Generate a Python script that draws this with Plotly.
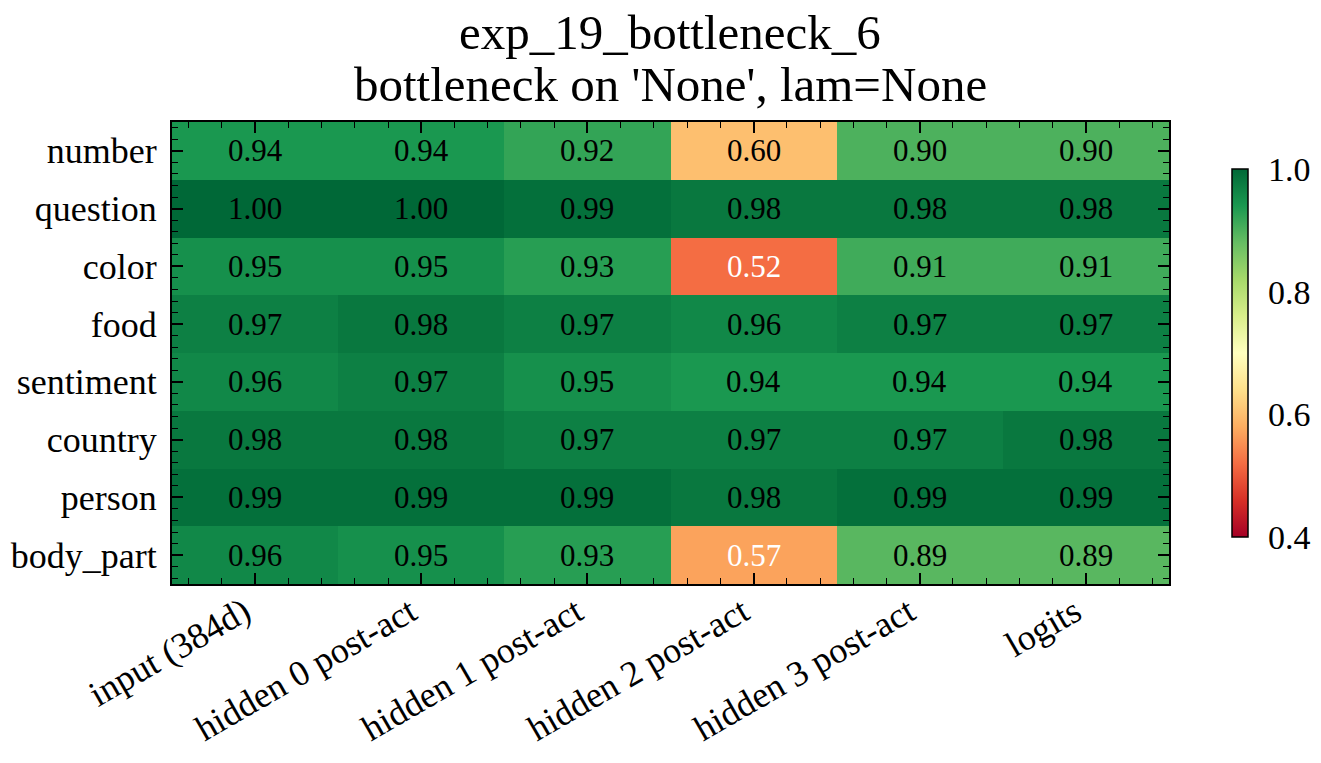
import plotly.graph_objects as go

title_line1 = "exp_19_bottleneck_6"
title_line2 = "bottleneck on 'None', lam=None"

columns = ["input (384d)", "hidden 0 post-act", "hidden 1 post-act",
           "hidden 2 post-act", "hidden 3 post-act", "logits"]
rows = ["number", "question", "color", "food", "sentiment", "country",
        "person", "body_part"]

number = [0.94, 0.94, 0.92, 0.60, 0.90, 0.90]
question = [1.00, 1.00, 0.99, 0.98, 0.98, 0.98]
color = [0.95, 0.95, 0.93, 0.52, 0.91, 0.91]
food = [0.97, 0.98, 0.97, 0.96, 0.97, 0.97]
sentiment = [0.96, 0.97, 0.95, 0.94, 0.94, 0.94]
country = [0.98, 0.98, 0.97, 0.97, 0.97, 0.98]
person = [0.99, 0.99, 0.99, 0.98, 0.99, 0.99]
body_part = [0.96, 0.95, 0.93, 0.57, 0.89, 0.89]

z = [number, question, color, food, sentiment, country, person, body_part]

colorbar_ticks = [0.4, 0.6, 0.8, 1.0]

FONT = "Liberation Serif"
xs = list(range(len(columns)))
ys = list(range(len(rows)))

fig = go.Figure()
fig.add_trace(go.Heatmap(
    z=z, x=xs, y=ys,
    colorscale="RdYlGn", zmin=0.4, zmax=1.0,
    colorbar=dict(
        x=1.063, xanchor="left", xref="paper",
        y=0.5, yanchor="middle", len=0.797, lenmode="fraction",
        thickness=16, thicknessmode="pixels",
        outlinewidth=1.5, outlinecolor="black",
        tickvals=colorbar_ticks, ticktext=[f"{v:.1f}" for v in colorbar_ticks],
        ticks="outside", ticklen=13, tickcolor="rgba(0,0,0,0)",
        tickfont=dict(family=FONT, size=34, color="black"),
        xpad=0, ypad=0,
    ),
))

for i, row in enumerate(z):
    for j, v in enumerate(row):
        fig.add_annotation(
            x=xs[j], y=ys[i], text=f"{v:.2f}", showarrow=False,
            font=dict(family=FONT, size=31,
                      color="white" if v < 0.58 else "black"),
        )

# two-line title, placed as separate lines (tighter line spacing)
for text, ypx in [(title_line1, 33), (title_line2, 84)]:
    fig.add_annotation(
        text=text, xref="paper", yref="paper",
        x=(670 - 172) / 997, y=(584 - ypx) / 462,
        xanchor="center", yanchor="middle", showarrow=False,
        font=dict(family=FONT, size=49, color="black"),
    )

axis_common = dict(
    showline=True, linecolor="black", linewidth=2, mirror="allticks",
    ticks="inside", ticklen=11, tickwidth=1.5, tickcolor="black",
    showgrid=False, zeroline=False, automargin=False,
    tickfont=dict(family=FONT, size=36, color="black"),
    minor=dict(ticks="inside", ticklen=6, tickwidth=1.2, tickcolor="black",
               dtick=0.2, tick0=0, showgrid=False),
)

fig.update_xaxes(
    **axis_common, range=[-0.5, len(columns) - 0.5],
    tickmode="array", tickvals=xs, ticktext=columns, tickangle=-30,
    ticklabelstandoff=-9, ticklabelshift=-11,
)
fig.update_yaxes(
    **axis_common, range=[len(rows) - 0.5, -0.5],
    tickmode="array", tickvals=ys, ticktext=rows,
    ticklabelstandoff=6,
)

fig.update_layout(
    width=1321, height=763,
    margin=dict(l=172, r=152, t=122, b=179, autoexpand=False),
    paper_bgcolor="white", plot_bgcolor="white",
    font=dict(family=FONT, color="black"),
)

fig.write_html("out.html")
